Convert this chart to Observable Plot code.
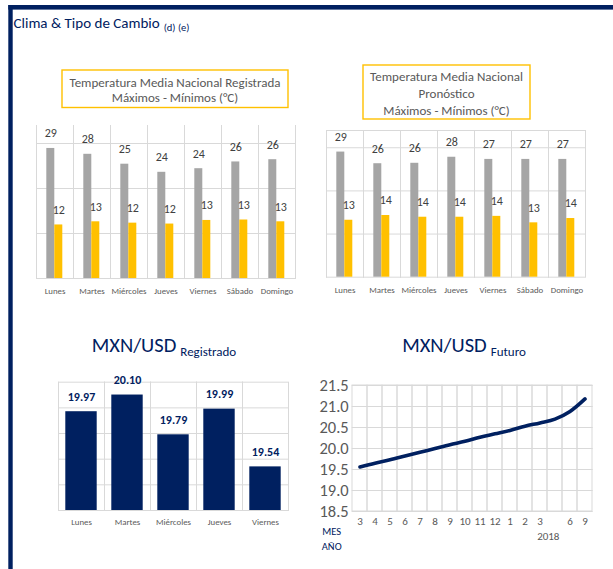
<!DOCTYPE html>
<html><head><meta charset="utf-8">
<script src="https://cdn.jsdelivr.net/npm/d3@7"></script>
<script src="https://cdn.jsdelivr.net/npm/@observablehq/plot@0.6"></script>
<style>
body{margin:0;background:#fff;}
#page{position:relative;width:613px;height:569px;overflow:hidden;background:#fff;font-family:Carlito,Lato,sans-serif;}
.chart{position:absolute;}
.chart svg{background:transparent !important;}
#overlay{position:absolute;left:0;top:0;pointer-events:none;}
</style></head>
<body><div id="page">
<div class="chart" id="cA" style="left:20px;top:115px"></div>
<div class="chart" id="cB" style="left:310px;top:115px"></div>
<div class="chart" id="cC" style="left:20px;top:370px"></div>
<div class="chart" id="cD" style="left:300px;top:370px"></div>
<svg id="overlay" width="613" height="569" font-family="Carlito, Lato, sans-serif">
  <rect x="8.3" y="5" width="605" height="4.6" fill="#002060"/>
  <rect x="8.3" y="5" width="4.4" height="564" fill="#002060"/>
  <text x="13.5" y="28.3" font-size="15" fill="#002060">Clima &amp; Tipo de Cambio<tspan font-size="10.5" dx="4" dy="3">(d) (e)</tspan></text>
  <rect x="62" y="70" width="226" height="37.5" fill="none" stroke="#FFC000" stroke-width="1.4"/>
  <text x="175" y="82.7" font-size="13" fill="#595959" text-anchor="middle" dominant-baseline="central">Temperatura Media Nacional Registrada</text>
  <text x="175" y="97.7" font-size="13" fill="#595959" text-anchor="middle" dominant-baseline="central">Máximos - Mínimos (°C)</text>
  <rect x="363" y="65" width="167" height="54" fill="none" stroke="#FFC000" stroke-width="1.4"/>
  <text x="446.5" y="76.7" font-size="13" fill="#595959" text-anchor="middle" dominant-baseline="central">Temperatura Media Nacional</text>
  <text x="446.5" y="93.3" font-size="13" fill="#595959" text-anchor="middle" dominant-baseline="central">Pronóstico</text>
  <text x="446.5" y="110" font-size="13" fill="#595959" text-anchor="middle" dominant-baseline="central">Máximos - Mínimos (°C)</text>
  <text x="164" y="352.3" text-anchor="middle" fill="#002060"><tspan font-size="20.5">MXN/USD</tspan><tspan font-size="13" dx="4" dy="3.5">Registrado</tspan></text>
  <text x="464" y="352.3" text-anchor="middle" fill="#002060"><tspan font-size="20.5">MXN/USD</tspan><tspan font-size="13" dx="4" dy="3.5">Futuro</tspan></text>
  <text x="331.7" y="531.7" font-size="10.5" fill="#002060" text-anchor="middle" dominant-baseline="central">MES</text>
  <text x="331.7" y="546.7" font-size="10.5" fill="#002060" text-anchor="middle" dominant-baseline="central">AÑO</text>
  <text x="548.3" y="536.7" font-size="11" fill="#595959" text-anchor="middle" dominant-baseline="central">2018</text>
</svg>
</div>
<script>
const dias = ["Lunes","Martes","Miércoles","Jueves","Viernes","Sábado","Domingo"];
const maxRegistrado = [28.9,27.6,25.4,23.6,24.4,25.9,26.4];
const minRegistrado = [11.9,12.6,12.3,12.1,12.9,13.0,12.6];
const maxPronostico = [29.0,26.3,26.4,27.8,27.3,27.3,27.3];
const minPronostico = [13.2,14.3,13.9,13.9,14.1,12.6,13.6];
const tempTicks = [0,10,20,30,34];

const diasFX = ["Lunes","Martes","Miércoles","Jueves","Viernes"];
const mxnRegistrado = [19.97,20.10,19.79,19.99,19.54];
const mxnTicks = [19.2,19.4,19.6,19.8,20.0,20.2];

const mesesFuturo = ["3","4","5","6","7","8","9","10","11","12","1","2","3","","6","9"];
const mxnFuturo = [19.56,19.65,19.73,19.82,19.91,20.00,20.09,20.17,20.27,20.35,20.43,20.53,20.61,20.70,20.88,21.18];
const futuroTicks = [18.5,19.0,19.5,20.0,20.5,21.0,21.5];

const FONT = "Carlito, Lato, sans-serif";
const GRID = "#D9D9D9";
const NAVY = "#002060";

function tempChart(maxs, mins, opts) {
  const rows = dias.flatMap((d, i) => [
    {dia: d, serie: "max", v: maxs[i]},
    {dia: d, serie: "min", v: mins[i]}
  ]);
  const marks = [
    Plot.ruleY(tempTicks.slice(1, -1), {stroke: GRID}),
    Plot.frame({anchor: "left", stroke: GRID}),
    Plot.frame({anchor: "right", stroke: GRID}),
    Plot.ruleY([tempTicks[0]], {stroke: GRID}),
    Plot.barY(rows, {fx: "dia", x: "serie", y: "v", fill: "serie"}),
    Plot.text(rows, {fx: "dia", x: "serie", y: "v", text: d => d3.format(".0f")(d.v), dy: -15, fontSize: 12, fill: "#404040"})
  ];
  if (opts.top) marks.splice(3, 0, Plot.frame({anchor: "top", stroke: GRID}));
  return Plot.plot({
    width: 290, height: 185,
    marginLeft: opts.ml, marginRight: opts.mr, marginTop: opts.mt, marginBottom: opts.mb,
    fx: {domain: dias, padding: 0, label: null, axis: "bottom", tickSize: 0, tickPadding: opts.tp},
    x: {domain: ["max", "min"], paddingInner: 0, paddingOuter: 1.1, axis: null},
    y: {domain: [tempTicks[0], tempTicks[tempTicks.length - 1]], axis: null},
    color: {domain: ["max", "min"], range: ["#A5A5A5", "#FFC000"]},
    style: {fontFamily: FONT, fontSize: "8.8px", color: "#595959", background: "transparent", overflow: "visible"},
    marks
  });
}

document.getElementById("cA").append(tempChart(maxRegistrado, minRegistrado, {ml: 12.7, mr: 12.7, mt: 10, mb: 22, tp: 9.3, top: false}));
document.getElementById("cB").append(tempChart(maxPronostico, minPronostico, {ml: 12.7, mr: 11.7, mt: 15, mb: 23.3, tp: 10, top: true}));

// MXN/USD registrado
const rowsC = diasFX.map((d, i) => ({dia: d, v: mxnRegistrado[i]}));
document.getElementById("cC").append(Plot.plot({
  width: 280, height: 160,
  marginLeft: 36.7, marginRight: 11.7, marginTop: 11.7, marginBottom: 20,
  fx: {domain: diasFX, padding: 0, label: null, axis: "bottom", tickSize: 0, tickPadding: 8.5},
  y: {domain: [mxnTicks[0], mxnTicks[mxnTicks.length - 1]], axis: null},
  style: {fontFamily: FONT, fontSize: "8.8px", color: "#595959", background: "transparent", overflow: "visible"},
  marks: [
    Plot.ruleY(mxnTicks, {stroke: GRID}),
    Plot.frame({anchor: "left", stroke: GRID}),
    Plot.frame({anchor: "right", stroke: GRID}),
    Plot.barY(rowsC, {fx: "dia", y1: () => mxnTicks[0], y2: "v", fill: NAVY, insetLeft: 7.3, insetRight: 7.3}),
    Plot.text(rowsC, {fx: "dia", y: "v", text: d => d.v.toFixed(2), dy: -15, fontSize: 12, fontWeight: "bold", fill: NAVY})
  ]
}));

// MXN/USD futuro
const idx = mesesFuturo.map((_, i) => i);
const rowsD = idx.map(i => ({i, v: mxnFuturo[i]}));
document.getElementById("cD").append(Plot.plot({
  width: 305, height: 160,
  marginLeft: 51.7, marginRight: 12.3, marginTop: 15, marginBottom: 19,
  x: {type: "band", domain: idx, padding: 0},
  y: {domain: [futuroTicks[0], futuroTicks[futuroTicks.length - 1]]},
  style: {fontFamily: FONT, fontSize: "11px", color: "#595959", background: "transparent", overflow: "visible"},
  marks: [
    Plot.cell(idx, {x: d => d, fill: "none", stroke: GRID}),
    Plot.ruleY(futuroTicks, {stroke: GRID}),
    Plot.axisX({tickSize: 0, tickPadding: 6, tickFormat: i => mesesFuturo[i], label: null, fontSize: 11}),
    Plot.axisY(futuroTicks, {tickSize: 0, tickPadding: 3.5, tickFormat: d3.format(".1f"), label: null, fontSize: 16.5}),
    Plot.line(rowsD, {x: "i", y: "v", stroke: NAVY, strokeWidth: 3.6, curve: "monotone-x", strokeLinecap: "round"})
  ]
}));
</script>
</body></html>
